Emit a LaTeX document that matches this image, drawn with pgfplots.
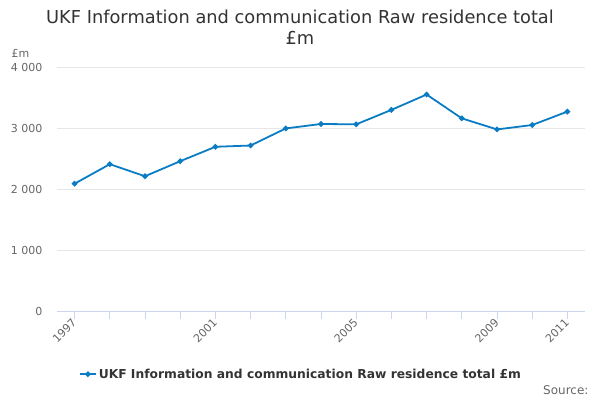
\documentclass[border=0pt]{standalone}
\usepackage{fontspec}
\setmainfont{DejaVu Sans}
\usepackage{pgfplots}
\pgfplotsset{compat=1.18}
\definecolor{lineblue}{HTML}{0A7CC4}
\definecolor{gridgray}{HTML}{E6E6E6}
\definecolor{axisblue}{HTML}{CCD6EB}
\definecolor{labelgray}{HTML}{666666}
\definecolor{titlegray}{HTML}{333333}
\begin{document}
\begin{tikzpicture}
\useasboundingbox (0,0) rectangle (600pt,400pt);
\begin{axis}[
  at={(57pt,89pt)}, anchor=south west,
  scale only axis, width=528pt, height=244pt,
  xmin=1996.5, xmax=2011.5, ymin=0, ymax=4000,
  xtick={1997,2001,2005,2009,2011},
  xticklabels={1997,2001,2005,2009,2011},
  minor xtick={1998,1999,2000,2002,2003,2004,2006,2007,2008,2010},
  ytick={0,1000,2000,3000,4000},
  yticklabels={0,1 000,2 000,3 000,4 000},
  separate axis lines,
  axis x line*=bottom, axis y line*=left,
  y axis line style={draw=none},
  x axis line style={draw=axisblue, line width=0.8pt},
  ymajorgrids, grid style={gridgray, line width=0.8pt},
  tick align=outside,
  x tick style={axisblue, line width=0.8pt},
  major tick length=8pt, minor tick length=8pt,
  y tick style={draw=none},
  xticklabel style={rotate=45, anchor=east, font=\fontsize{11}{13}\selectfont, text=labelgray, xshift=2pt, yshift=-1pt},
  yticklabel style={font=\fontsize{11}{13}\selectfont, text=labelgray, xshift=-3pt},
  legend style={at={(0.462,-0.259)}, anchor=center, draw=none, fill=none,
    font=\fontsize{12.3}{14}\selectfont\bfseries, text=titlegray},
  legend image code/.code={\draw[mark repeat=2,mark phase=2] plot coordinates {(0pt,0pt)(8pt,0pt)(16pt,0pt)};},
]
\addplot[lineblue, line width=1.8pt, mark=*, mark size=1.8pt] coordinates {
(1997,2087) (1998,2407) (1999,2209) (2000,2456) (2001,2692) (2002,2713)
(2003,2993) (2004,3066) (2005,3060) (2006,3297) (2007,3549) (2008,3158)
(2009,2977) (2010,3049) (2011,3269)
};
\addlegendentry{UKF Information and communication Raw residence total £m}
\end{axis}
\node[align=center, text=titlegray, font=\fontsize{17.8}{21}\selectfont] at (300pt,373pt) {UKF Information and communication Raw residence total\\£m};
\node[anchor=west, text=labelgray, font=\fontsize{11}{13}\selectfont] at (8pt,347pt) {£m};
\node[anchor=east, text=labelgray, font=\fontsize{12}{14}\selectfont] at (592pt,10pt) {Source:};
\end{tikzpicture}
\end{document}
